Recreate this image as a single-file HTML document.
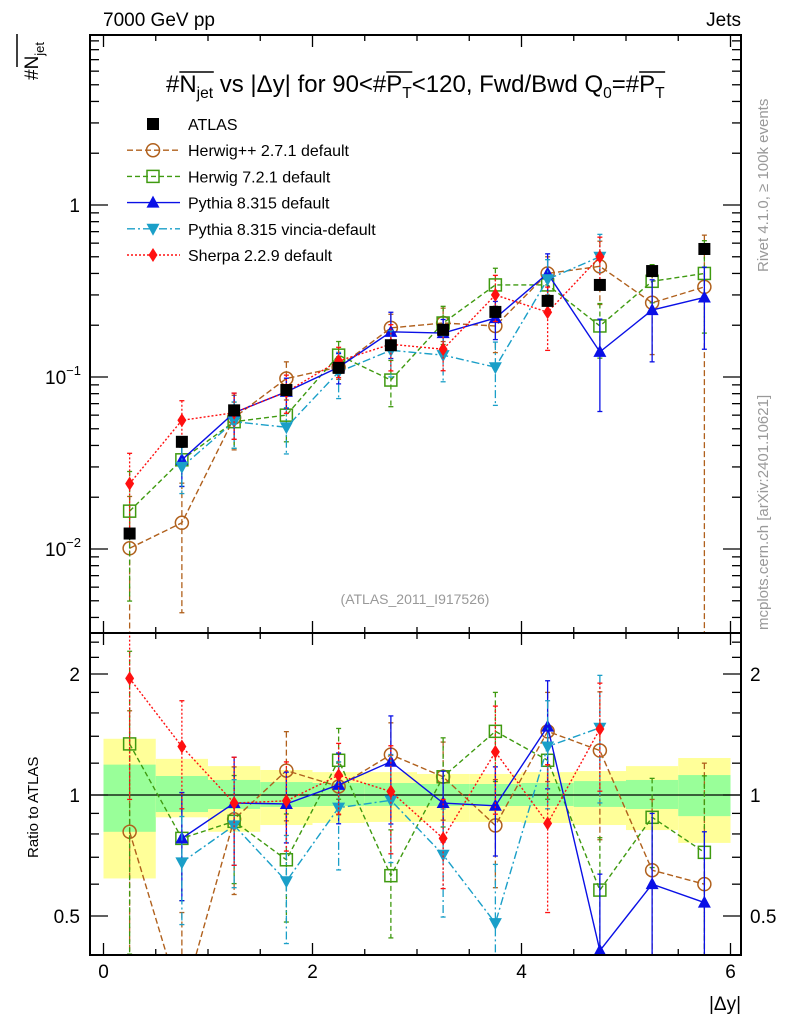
<!DOCTYPE html>
<html><head><meta charset="utf-8"><style>
html,body{margin:0;background:#fff;overflow:hidden;width:786px;height:1024px}
svg{display:block;font-family:"Liberation Sans",sans-serif}
</style></head><body>
<svg id="c" width="786" height="1024" viewBox="0 0 786 1024">
<defs>
<clipPath id="cm"><rect x="90" y="35" width="651" height="598"/></clipPath>
<clipPath id="cr"><rect x="90" y="633" width="651" height="322"/></clipPath>
</defs>
<g id="bands" clip-path="url(#cr)"></g>
<g id="marks"></g>
<g id="axes"></g>
<text x="103" y="26" font-size="19">7000 GeV pp</text>
<text x="741" y="26" font-size="19" text-anchor="end">Jets</text>
<text id="title" x="166" y="92" font-size="20">#<tspan id="o1">N</tspan><tspan class="sub" font-size="13" dy="6">jet</tspan><tspan dy="-6"> vs |Δy| for 90&lt;#</tspan><tspan id="o2">P</tspan><tspan class="sub" font-size="13" dy="6">T</tspan><tspan dy="-6">&lt;120, Fwd/Bwd Q</tspan><tspan font-size="13" dy="6">0</tspan><tspan dy="-6">=#</tspan><tspan id="o3">P</tspan><tspan class="sub" font-size="13" dy="6">T</tspan></text>
<g id="overlines"></g>
<text transform="translate(38,80) rotate(-90)" font-size="19">#N<tspan font-size="13" dy="6">jet</tspan></text>
<line x1="17" y1="67" x2="17" y2="34" stroke="#000" stroke-width="1.5"/>
<text transform="translate(38,858) rotate(-90)" font-size="15">Ratio to ATLAS</text>
<text x="741" y="1010" font-size="19" text-anchor="end">|Δy|</text>
<text transform="translate(768,272) rotate(-90)" font-size="15" fill="#999">Rivet 4.1.0, ≥ 100k events</text>
<text transform="translate(768,630) rotate(-90)" font-size="15" fill="#999">mcplots.cern.ch [arXiv:2401.10621]</text>
<text x="415" y="604" font-size="14" fill="#999" text-anchor="middle">(ATLAS_2011_I917526)</text>
<g id="legend"></g>
</svg>
<script>
const xCenters=[0.25,0.75,1.25,1.75,2.25,2.75,3.25,3.75,4.25,4.75,5.25,5.75];
const atlasVals=[0.0123,0.042,0.064,0.084,0.113,0.153,0.188,0.239,0.277,0.343,0.413,0.555];
const atlasErr=[0.08,0.08,0.08,0.07,0.06,0.06,0.06,0.06,0.06,0.06,0.06,0.07];
const herwigppVals=[0.0101,0.0142,0.058,0.098,0.114,0.193,0.206,0.198,0.40,0.44,0.27,0.334];
const herwig7Vals=[0.0166,0.033,0.055,0.060,0.134,0.096,0.206,0.343,0.343,0.198,0.36,0.40];
const pythiaVals=[null,0.033,0.062,0.082,0.114,0.183,0.18,0.22,0.40,0.14,0.245,0.29];
const vinciaVals=[null,0.030,0.055,0.051,0.107,0.143,0.134,0.114,0.37,0.50,null,null];
const sherpaVals=[0.024,0.056,0.062,0.082,0.124,0.155,0.145,0.30,0.238,0.50,null,null];
const herwigppRatio=[0.81,0.30,0.87,1.15,1.05,1.26,1.11,0.84,1.44,1.29,0.65,0.60];
const herwig7Ratio=[1.34,0.78,0.86,0.69,1.22,0.63,1.11,1.44,1.22,0.58,0.88,0.72];
const pythiaRatio=[null,0.78,0.955,0.95,1.06,1.21,0.955,0.94,1.48,0.41,0.60,0.54];
const vinciaRatio=[null,0.68,0.84,0.61,0.93,0.97,0.71,0.48,1.32,1.47,null,null];
const sherpaRatio=[1.95,1.32,0.955,0.967,1.12,1.02,0.78,1.28,0.85,1.46,null,null];
const herwigppErr=[1.0,0.7,0.35,0.25,0.15,0.2,0.22,0.3,0.25,0.4,0.5,1.0];
const herwig7Err=[0.7,0.3,0.3,0.3,0.2,0.3,0.25,0.25,0.2,0.35,0.25,0.55];
const pythiaErr=[0,0.3,0.3,0.2,0.2,0.3,0.2,0.25,0.3,0.55,0.5,0.5];
const vinciaErr=[0,0.3,0.3,0.3,0.3,0.3,0.3,0.4,0.3,0.35,0,0];
const sherpaErr=[0.5,0.3,0.3,0.25,0.2,0.3,0.25,0.3,0.4,0.3,0,0];
const yellowUp=[1.38,1.23,1.18,1.154,1.14,1.14,1.128,1.128,1.14,1.147,1.18,1.236];
const yellowDn=[0.62,0.88,0.81,0.842,0.852,0.857,0.857,0.857,0.852,0.842,0.818,0.76];
const greenUp=[1.19,1.115,1.09,1.077,1.071,1.071,1.065,1.065,1.071,1.083,1.09,1.121];
const greenDn=[0.81,0.907,0.923,0.934,0.939,0.939,0.939,0.939,0.939,0.934,0.923,0.886];
const xTicks=[0,2,4,6];
const NS="http://www.w3.org/2000/svg";
const X=v=>103.5+104.5*v;
const Y=v=>205-172*Math.log10(v);
const R=r=>795-121*Math.log2(r);
function mk(tag,attrs,parent){const e=document.createElementNS(NS,tag);for(const k in attrs)e.setAttribute(k,attrs[k]);parent.appendChild(e);return e;}
const bands=document.getElementById('bands'),marks=document.getElementById('marks'),axes=document.getElementById('axes'),legend=document.getElementById('legend');
// title sizing + overlines
(function(){
 const t=document.getElementById('title');
 const w=t.getBBox().width;
 const fs=20*499/w;
 t.setAttribute('font-size',fs);
 t.querySelectorAll('tspan[font-size]').forEach(s=>s.setAttribute('font-size',fs*0.65));
 const ol=document.getElementById('overlines');
 ['o1','o2','o3'].forEach(id=>{
  const a=document.getElementById(id).getBBox();
  const sub=document.getElementById(id).nextElementSibling.getBBox();
  mk('line',{x1:a.x,y1:a.y+1,x2:sub.x+sub.width,y2:a.y+1,stroke:'#000','stroke-width':1.5},ol);
 });
})();
xCenters.forEach((c,i)=>{
 const y=mk('rect',{x:X(c-0.25),y:R(yellowUp[i]),width:X(0.5)-X(0),height:R(yellowDn[i])-R(yellowUp[i]),fill:'#ffff99'},bands);
 
 
 const g=mk('rect',{x:X(c-0.25),y:R(greenUp[i]),width:X(0.5)-X(0),height:R(greenDn[i])-R(greenUp[i]),fill:'#99ff99'},bands);
 
 
});
mk('line',{x1:90,y1:R(1),x2:741,y2:R(1),stroke:'#000','stroke-width':1.3},bands);
function marker(p,kind,x,y,col){
 let e;
 if(kind==='sq')e=mk('rect',{x:x-6,y:y-6,width:12,height:12,fill:'#000'},p);
 else if(kind==='circ')e=mk('circle',{cx:x,cy:y,r:6.5,fill:'none',stroke:col,'stroke-width':1.5},p);
 else if(kind==='osq')e=mk('rect',{x:x-6,y:y-6,width:12,height:12,fill:'none',stroke:col,'stroke-width':1.5},p);
 else if(kind==='tri')e=mk('polygon',{points:`${x},${y-7} ${x-6.5},${y+5} ${x+6.5},${y+5}`,fill:col},p);
 else if(kind==='itri')e=mk('polygon',{points:`${x},${y+7} ${x-6.5},${y-5} ${x+6.5},${y-5}`,fill:col},p);
 else e=mk('polygon',{points:`${x},${y-7} ${x-4.5},${y} ${x},${y+7} ${x+4.5},${y}`,fill:col},p);
 return e;
}
const series=[
 {name:'herwigpp',label:'Herwig++ 2.7.1 default',vals:herwigppVals,ratio:herwigppRatio,err:herwigppErr,col:'#b0601c',dash:'6,3',kind:'circ'},
 {name:'herwig7',label:'Herwig 7.2.1 default',vals:herwig7Vals,ratio:herwig7Ratio,err:herwig7Err,col:'#3f9a10',dash:'5,3',kind:'osq'},
 {name:'pythia',label:'Pythia 8.315 default',vals:pythiaVals,ratio:pythiaRatio,err:pythiaErr,col:'#0a10e6',dash:'',kind:'tri'},
 {name:'vincia',label:'Pythia 8.315 vincia-default',vals:vinciaVals,ratio:vinciaRatio,err:vinciaErr,col:'#1a9fc8',dash:'8,3,2,3',kind:'itri'},
 {name:'sherpa',label:'Sherpa 2.2.9 default',vals:sherpaVals,ratio:sherpaRatio,err:sherpaErr,col:'#ff1010',dash:'2,2',kind:'dia'}
];
function drawSeries(s,vals,scale,clip){
 const g=mk('g',{'clip-path':`url(#${clip})`},marks);
 
 
 let pts=[];
 vals.forEach((v,i)=>{if(v!=null)pts.push([X(xCenters[i]),scale(v)]);});
 mk('polyline',{points:pts.map(p=>p.join(',')).join(' '),fill:'none',stroke:s.col,'stroke-width':1.4,'stroke-dasharray':s.dash},g);
 vals.forEach((v,i)=>{
  if(v==null)return;
  const x=X(xCenters[i]),e=s.err[i];
  const yt=scale(v*(1+e)),yb=e>=0.99?1100:scale(v*(1-e));
  mk('line',{x1:x,y1:yt,x2:x,y2:yb,stroke:s.col,'stroke-width':1.3,'stroke-dasharray':s.dash},g);
  mk('line',{x1:x-2.5,y1:yt,x2:x+2.5,y2:yt,stroke:s.col,'stroke-width':1.3},g);
  mk('line',{x1:x-2.5,y1:yb,x2:x+2.5,y2:yb,stroke:s.col,'stroke-width':1.3},g);
  const m=marker(g,s.kind,x,scale(v),s.col);
  
  
 });
}
series.forEach(s=>{drawSeries(s,s.vals,Y,'cm');drawSeries(s,s.ratio,R,'cr');});
const ga=mk('g',{'clip-path':'url(#cm)'},marks);


atlasVals.forEach((v,i)=>{
 const x=X(xCenters[i]);
 mk('line',{x1:x,y1:Y(v*(1+atlasErr[i])),x2:x,y2:Y(v*(1-atlasErr[i])),stroke:'#000','stroke-width':1.3},ga);
 const m=marker(ga,'sq',x,Y(v),'#000');
 
 
});
const legRows=[{label:'ATLAS',kind:'sq',col:'#000',dash:''}].concat(series);
legRows.forEach((s,i)=>{
 const y=124+26.2*i;
 const g=mk('g',{},legend);
 
 
 if(i>0)mk('line',{x1:127,y1:y,x2:180,y2:y,stroke:s.col,'stroke-width':1.4,'stroke-dasharray':s.dash},g);
 marker(g,s.kind,153,y,s.col);
 const t=mk('text',{x:188,y:y+6,'font-size':16},g);t.textContent=s.label;
});
[[35,633],[633,955]].forEach(([t,b])=>{
 const r=mk('rect',{x:90,y:t,width:651,height:b-t,fill:'none',stroke:'#000','stroke-width':2},axes);
 
 
 for(let v=0;v<=6.01;v+=0.5){
  const len=(Math.abs(v%2)<0.01)?12:6;
  mk('line',{x1:X(v),y1:b,x2:X(v),y2:b-len,stroke:'#000','stroke-width':1.3},axes);
  mk('line',{x1:X(v),y1:t,x2:X(v),y2:t+len,stroke:'#000','stroke-width':1.3},axes);
 }
});
xTicks.forEach(v=>{const t=mk('text',{x:X(v),y:978,'font-size':19,'text-anchor':'middle'},axes);t.textContent=v;
 
 });
for(let d=-3;d<=0;d++){for(let k=1;k<10;k++){const v=k*Math.pow(10,d);const y=Y(v);if(y<35||y>633)continue;
 const len=k===1?18:9;
 mk('line',{x1:90,y1:y,x2:90+len,y2:y,stroke:'#000','stroke-width':1.3},axes);
 mk('line',{x1:741,y1:y,x2:741-len,y2:y,stroke:'#000','stroke-width':1.3},axes);}}
[[1,'1',''],[0.1,'10','−1'],[0.01,'10','−2']].forEach(([v,b,e])=>{
 const t=mk('text',{x:e?63:80,y:Y(v)+7,'font-size':19,'text-anchor':e?'middle':'end'},axes);
 t.textContent=b;
 
 
 if(e){const s=mk('tspan',{'font-size':13,dy:-9},t);s.textContent=e;}
});
[0.4,0.5,0.6,0.7,0.8,0.9,1,1.2,1.4,1.6,1.8,2,2.2,2.4].forEach(r=>{const y=R(r);if(y<633||y>955)return;
 const len=(r===0.5||r===1||r===2)?18:9;
 mk('line',{x1:90,y1:y,x2:90+len,y2:y,stroke:'#000','stroke-width':1.3},axes);
 mk('line',{x1:741,y1:y,x2:741-len,y2:y,stroke:'#000','stroke-width':1.3},axes);});
[[2,'2'],[1,'1'],[0.5,'0.5']].forEach(([r,l])=>{
 const a=mk('text',{x:80,y:R(r)+7,'font-size':19,'text-anchor':'end'},axes);a.textContent=l;
 
 
 const b=mk('text',{x:750,y:R(r)+7,'font-size':19},axes);b.textContent=l;
 
 
});
</script>
</body></html>
